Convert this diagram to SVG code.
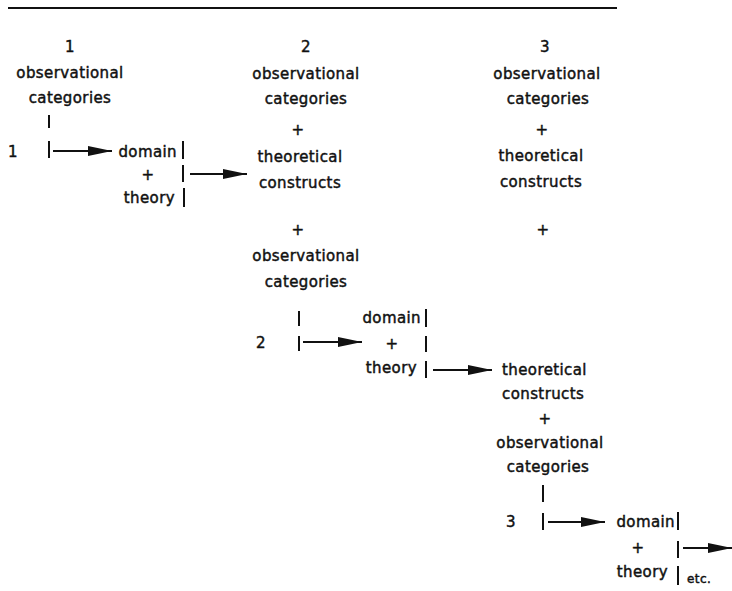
<svg xmlns="http://www.w3.org/2000/svg" width="732" height="591" viewBox="0 0 732 591">
  <style>
    text { font-family: "DejaVu Sans", "Liberation Sans", sans-serif; font-size: 15px; letter-spacing: 0.4px; fill: #111; stroke: #111; stroke-width: 0.45px; }
    .c { text-anchor: middle; }
    .e { text-anchor: end; }
    .small { font-size: 12px; }
    .bar { stroke: #111; stroke-width: 2; fill: none; }
    .arrow { stroke: #111; stroke-width: 1.8; fill: none; marker-end: url(#head); }
    .rule { stroke: #111; stroke-width: 2; }
  </style>
  <defs>
    <marker id="head" markerUnits="userSpaceOnUse" markerWidth="26" markerHeight="12" refX="24" refY="5.5" orient="auto">
      <path d="M0,0.5 L24,5.5 L0,10.5 Z" fill="#111"/>
    </marker>
  </defs>
  <rect width="732" height="591" fill="#fff"/>

  <line class="rule" x1="8" y1="8" x2="617" y2="8"/>

  <!-- stage 1 -->
  <g id="stage1-header">
    <text class="c" x="70" y="52">1</text>
    <text class="c" x="70" y="78">observational</text>
    <text class="c" x="70" y="103">categories</text>
  </g>
  <g id="step1-label"><text x="8" y="157">1</text></g>
  <g id="step1-result">
    <text class="e" x="177" y="157">domain</text>
    <text class="c" x="148" y="180">+</text>
    <text class="e" x="175" y="203">theory</text>
  </g>

  <!-- stage 2 -->
  <g id="stage2-header">
    <text class="c" x="306" y="52">2</text>
    <text class="c" x="306" y="79">observational</text>
    <text class="c" x="306" y="104">categories</text>
    <text class="c" x="298" y="135">+</text>
    <text class="c" x="300" y="162">theoretical</text>
    <text class="c" x="300" y="188">constructs</text>
    <text class="c" x="298" y="235">+</text>
    <text class="c" x="306" y="261">observational</text>
    <text class="c" x="306" y="287">categories</text>
  </g>
  <g id="step2-label"><text x="256" y="348">2</text></g>
  <g id="step2-result">
    <text class="e" x="421" y="323">domain</text>
    <text class="c" x="392" y="349">+</text>
    <text class="e" x="417" y="373">theory</text>
  </g>

  <!-- stage 3 -->
  <g id="stage3-header">
    <text class="c" x="545" y="52">3</text>
    <text class="c" x="547" y="79">observational</text>
    <text class="c" x="548" y="104">categories</text>
    <text class="c" x="542" y="135">+</text>
    <text class="c" x="541" y="161">theoretical</text>
    <text class="c" x="541" y="187">constructs</text>
    <text class="c" x="543" y="235">+</text>
  </g>
  <g id="stage3-inputs">
    <text x="502" y="375">theoretical</text>
    <text x="502" y="399">constructs</text>
    <text class="c" x="545" y="424">+</text>
    <text class="c" x="550" y="448">observational</text>
    <text class="c" x="548" y="472">categories</text>
  </g>
  <g id="step3-label"><text x="506" y="527">3</text></g>
  <g id="step3-result">
    <text class="e" x="675" y="527">domain</text>
    <text class="c" x="638" y="553">+</text>
    <text class="e" x="668" y="577">theory</text>
    <text class="small" x="687" y="583">etc.</text>
  </g>

  <g id="connectors">
    <!-- step 1 -->
    <line class="bar" x1="49" y1="115" x2="49" y2="128"/>
    <line class="bar" x1="49" y1="141" x2="49" y2="158"/>
    <line class="arrow" x1="53" y1="151" x2="112" y2="151"/>
    <line class="bar" x1="183" y1="141" x2="183" y2="159"/>
    <line class="bar" x1="183" y1="165" x2="183" y2="182"/>
    <line class="bar" x1="184" y1="188" x2="184" y2="207"/>
    <line class="arrow" x1="190" y1="174" x2="247" y2="174"/>
    <!-- step 2 -->
    <line class="bar" x1="299" y1="311" x2="299" y2="326"/>
    <line class="bar" x1="299" y1="336" x2="299" y2="351"/>
    <line class="arrow" x1="303" y1="342" x2="362" y2="342"/>
    <line class="bar" x1="426" y1="309" x2="426" y2="327"/>
    <line class="bar" x1="426" y1="336" x2="426" y2="352"/>
    <line class="bar" x1="426" y1="361" x2="426" y2="378"/>
    <line class="arrow" x1="433" y1="370" x2="492" y2="370"/>
    <!-- step 3 -->
    <line class="bar" x1="543" y1="485" x2="543" y2="502"/>
    <line class="bar" x1="543" y1="513" x2="543" y2="530"/>
    <line class="arrow" x1="548" y1="522" x2="605" y2="522"/>
    <line class="bar" x1="678" y1="512" x2="678" y2="530"/>
    <line class="bar" x1="678" y1="541" x2="678" y2="558"/>
    <line class="bar" x1="678" y1="566" x2="678" y2="585"/>
    <line class="arrow" x1="683" y1="548" x2="732" y2="548"/>
  </g>
</svg>
